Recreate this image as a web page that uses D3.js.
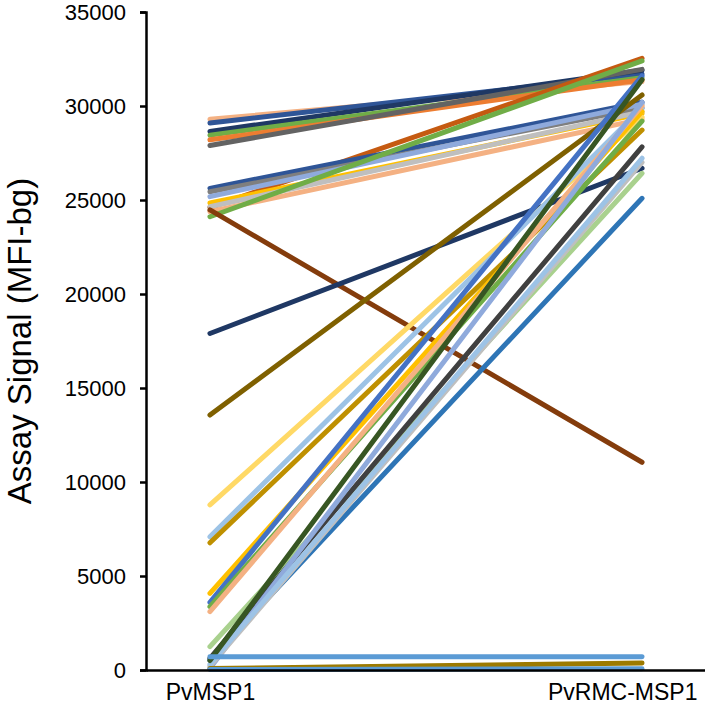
<!DOCTYPE html>
<html>
<head>
<meta charset="utf-8">
<script src="https://cdn.jsdelivr.net/npm/d3@7"></script>
<style>
  body { margin: 0; background: #fff; }
  text { font-family: "Liberation Sans", Arial, sans-serif; fill: #000; }
</style>
</head>
<body>
<div class="canvas"></div>
<script>
// categories on the x axis
const categories = ['PvMSP1', 'PvRMC-MSP1'];

// one value per sample for each antigen
const msp1Values = [
  29300, 29100, 28650, 28450, 28200, 27900,
  24600, 25620, 25440, 25180, 24840, 24640, 24380, 24110, 24470,
  17900, 13560, 8780, 7090, 6770, 4080, 3600, 3370, 3100,
  1240, 620, 530, 100, 200, 300, 500,
  700, 80, 30
];
const rmcMsp1Values = [
  31300, 31700, 31900, 31500, 31400, 31950,
  32540, 30200, 29900, 30100, 29600, 29700, 29300, 32400, 11050,
  26690, 30585, 29400, 29900, 28720, 29700, 31600, 29200, 30000,
  26420, 27830, 25090, 30200, 27000, 27220, 31400,
  710, 370, 60
];
const lineColours = [
  '#f4b183', '#2f5597', '#1f3864', '#70ad47', '#ed7d31', '#636363',
  '#c55a11', '#2f5597', '#7f7f7f', '#8faadc', '#ffc000', '#bfbfbf', '#f4b183', '#70ad47', '#843c0c',
  '#1f3864', '#7f6000', '#ffd966', '#9dc3e6', '#bf9000', '#ffc000', '#4472c4', '#70ad47', '#f4b183',
  '#a9d18e', '#404040', '#2e75b6', '#8faadc', '#bfbfbf', '#9dc3e6', '#375623',
  '#5b9bd5', '#9c7a00', '#5b9bd5'
];
const yTicks = [0, 5000, 10000, 15000, 20000, 25000, 30000, 35000];

const dims = {width: 705, height: 718};
const margin = {left: 146, top: 12, bottom: 48};

const svg = d3.select('.canvas')
  .append('svg')
  .attr('width', dims.width)
  .attr('height', dims.height);

const x = d3.scalePoint()
  .domain(categories)
  .range([margin.left, dims.width + 1])
  .padding(0.148);

const y = d3.scaleLinear()
  .domain([0, 35000])
  .range([dims.height - margin.bottom, margin.top]);

// build one record per sample
const samples = msp1Values.map((v, i) => ({
  values: [v, rmcMsp1Values[i]],
  colour: lineColours[i]
}));

const line = d3.line()
  .x((d, i) => x(categories[i]))
  .y(d => y(d));

svg.append('g')
  .selectAll('path')
  .data(samples)
  .enter()
  .append('path')
  .attr('d', d => line(d.values))
  .attr('fill', 'none')
  .attr('stroke', d => d.colour)
  .attr('stroke-width', 5)
  .attr('stroke-linecap', 'round');

// y axis
const yAxis = d3.axisLeft(y)
  .tickValues(yTicks)
  .tickSize(6)
  .tickPadding(14)
  .tickFormat(d3.format('d'));

const yAxisGroup = svg.append('g')
  .attr('transform', `translate(${margin.left},0)`)
  .call(yAxis);
yAxisGroup.select('.domain').attr('stroke', '#000').attr('stroke-width', 2.5);
yAxisGroup.selectAll('.tick line').attr('stroke', '#000').attr('stroke-width', 2.5);
yAxisGroup.selectAll('text').attr('font-size', 22).attr('fill', '#000');

// x axis (no ticks, just the base line and labels)
const xAxis = d3.axisBottom(x).tickSize(0).tickPadding(14);
const xAxisGroup = svg.append('g')
  .attr('transform', `translate(0,${y(0)})`)
  .call(xAxis);
xAxisGroup.select('.domain').attr('stroke', '#000').attr('stroke-width', 2.5);
xAxisGroup.selectAll('text').attr('font-size', 23).attr('fill', '#000');

// keep the last label inside the picture, like the spreadsheet does
xAxisGroup.selectAll('.tick')
  .filter(d => d === categories[categories.length - 1])
  .select('text')
  .attr('text-anchor', 'end')
  .attr('x', dims.width - 8 - x(categories[1]));

// y title
svg.append('text')
  .attr('transform', `translate(31,${(y(0) + y(35000)) / 2}) rotate(-90)`)
  .attr('text-anchor', 'middle')
  .attr('font-size', 33)
  .text('Assay Signal (MFI-bg)');
</script>
</body>
</html>
